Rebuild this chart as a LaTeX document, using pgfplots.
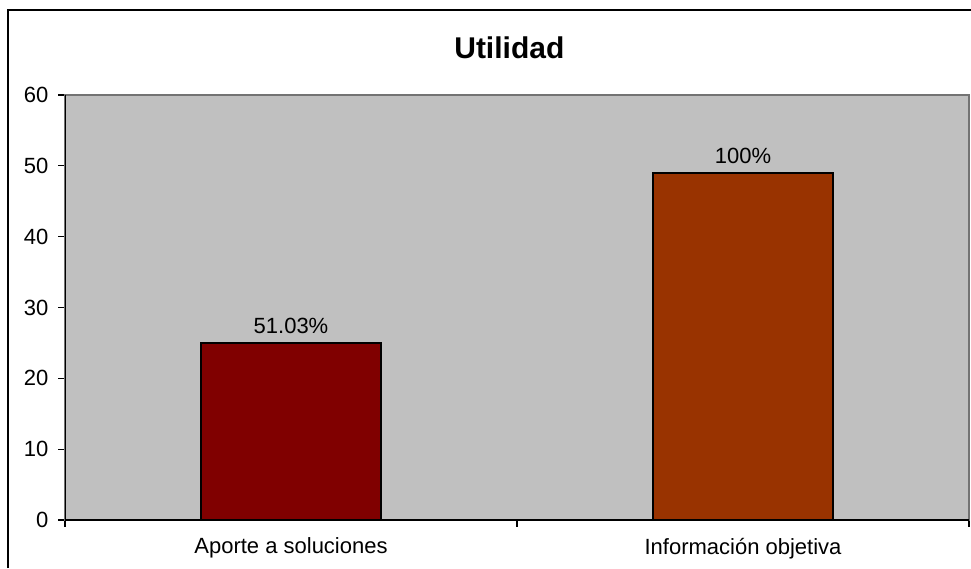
\documentclass[border=0pt]{standalone}
\usepackage{pgfplots}
\pgfplotsset{compat=1.18}
\usepackage{fontspec}
\setmainfont{Liberation Sans}
\definecolor{plotgray}{HTML}{C0C0C0}
\definecolor{barA}{HTML}{800000}
\definecolor{barB}{HTML}{993300}
\begin{document}
\begin{tikzpicture}
\useasboundingbox (0,0) rectangle (728.25pt,426pt);
\draw[line width=0.9pt] (6pt,0pt) -- (6pt,418.5pt) -- (728.25pt,418.5pt);
\node[font=\fontsize{22.5}{24}\selectfont\bfseries] at (382pt,390.5pt) {Utilidad};
\begin{axis}[
  at={(48.75pt,36pt)}, anchor=south west,
  scale only axis, width=678pt, height=318.75pt,
  xmin=-0.5, xmax=1.5, ymin=0, ymax=60,
  ytick={0,10,...,60},
  xtick={0,1}, xticklabels={Aporte a soluciones, Información objetiva},
  minor xtick={-0.5,0.5,1.5},
  major x tick style={draw=none},
  minor tick length=5pt, major tick length=5pt,
  tick align=outside, tick pos=left,
  tick style={black, line width=0.8pt},
  axis background/.style={fill=plotgray},
  axis line style={draw=gray!90!black, line width=0.8pt},
  ticklabel style={font=\fontsize{16.5}{18}\selectfont},
  /pgf/number format/assume math mode=true,
  xticklabel style={yshift=-5pt},
  yticklabel style={xshift=-4pt},
  ybar, bar width=135pt,
  nodes near coords style={font=\fontsize{16.5}{18}\selectfont, yshift=3pt},
]
\addplot[fill=barA, draw=black, line width=1pt, bar shift=0pt, nodes near coords={51.03\%}] coordinates {(0,25)};
\addplot[fill=barB, draw=black, line width=1pt, bar shift=0pt, nodes near coords={100\%}] coordinates {(1,49)};
\draw[black, line width=0.9pt] (rel axis cs:0,1) -- (rel axis cs:0,0) -- (rel axis cs:1,0);
\end{axis}
\end{tikzpicture}
\end{document}
